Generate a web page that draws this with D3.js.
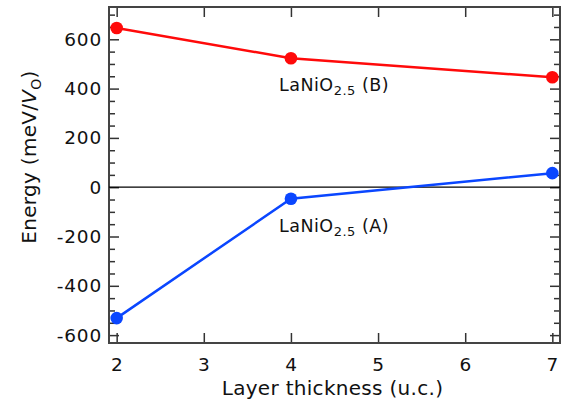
<!DOCTYPE html>
<html>
<head>
<meta charset="utf-8">
<script src="https://cdn.jsdelivr.net/npm/d3@7"></script>
<style>
  body { margin: 0; background: #fff; }
  text { font-family: "DejaVu Sans", sans-serif; fill: #111; }
</style>
</head>
<body>
<div id="chart"></div>
<script>
// values
const thickness = [2, 4, 7];
const energyB = [646, 523, 446];
const energyA = [-531, -47, 57];
const xTicks = [2, 3, 4, 5, 6, 7];
const yTicks = [-600, -400, -200, 0, 200, 400, 600];
const seriesNames = ["B", "A"];

const W = 567, H = 411;
const m = { left: 109, right: 7, top: 7, bottom: 68 };

const svg = d3.select("#chart").append("svg")
  .attr("width", W).attr("height", H);

const x = d3.scaleLinear().domain([1.912, 7.088]).range([m.left, W - m.right]);
const y = d3.scaleLinear().domain([-632, 731]).range([H - m.bottom, m.top]);

const minorY = d3.range(-600, 701, 50).filter(v => v % 200 !== 0);

// axes, ticks pointing inward
const fmt = d => d3.format("d")(d).replace("\u2212", "-");
svg.append("g").attr("transform", `translate(0,${H - m.bottom})`)
  .call(d3.axisBottom(x).tickValues(xTicks).tickSize(-10).tickPadding(15).tickFormat(fmt));
svg.append("g").attr("transform", `translate(0,${m.top})`)
  .call(d3.axisTop(x).tickValues(xTicks).tickSize(-10).tickFormat(""));
svg.append("g").attr("transform", `translate(${m.left},0)`)
  .call(d3.axisLeft(y).tickValues(yTicks).tickSize(-10).tickPadding(7).tickFormat(fmt));
svg.append("g").attr("transform", `translate(${W - m.right},0)`)
  .call(d3.axisRight(y).tickValues(yTicks).tickSize(-10).tickFormat(""));
svg.append("g").attr("transform", `translate(${m.left},0)`)
  .call(d3.axisLeft(y).tickValues(minorY).tickSize(-6).tickFormat(""));
svg.append("g").attr("transform", `translate(${W - m.right},0)`)
  .call(d3.axisRight(y).tickValues(minorY).tickSize(-6).tickFormat(""));

svg.selectAll(".domain").remove();
svg.selectAll(".tick line").attr("stroke", "#333").attr("stroke-width", 1.5);
svg.selectAll(".tick text").style("font-size", "18.5px").style("letter-spacing", "0.8px").attr("fill", "#111");

// frame
svg.append("rect")
  .attr("x", m.left).attr("y", m.top)
  .attr("width", W - m.left - m.right).attr("height", H - m.top - m.bottom)
  .attr("fill", "none").attr("stroke", "#444").attr("stroke-width", 2);

// zero line
svg.append("line")
  .attr("x1", m.left).attr("x2", W - m.right)
  .attr("y1", y(0)).attr("y2", y(0))
  .attr("stroke", "#000").attr("stroke-width", 1.2);

const series = [
  { name: seriesNames[0], values: energyB, color: "#ff0a0a" },
  { name: seriesNames[1], values: energyA, color: "#0a46ff" }
];

const line = d3.line().x(d => x(d[0])).y(d => y(d[1]));
series.forEach(s => {
  const pts = thickness.map((t, i) => [t, s.values[i]]);
  svg.append("path").datum(pts)
    .attr("d", line).attr("fill", "none")
    .attr("stroke", s.color).attr("stroke-width", 2.5);
  svg.selectAll(null).data(pts).enter().append("circle")
    .attr("cx", d => x(d[0])).attr("cy", d => y(d[1]))
    .attr("r", 6.3).attr("fill", s.color);
});

// series labels
function label(px, py, tag) {
  const t = svg.append("text").attr("x", px).attr("y", py)
    .style("font-size", "17.5px").style("letter-spacing", "0.5px");
  t.append("tspan").text("LaNiO");
  t.append("tspan").text("2.5").attr("dy", 4).style("font-size", "13px");
  t.append("tspan").text(` (${tag})`).attr("dy", -4);
}
label(x(4) - 12, y(523) + 33, "B");
label(x(4) - 12, y(-47) + 33, "A");

// axis titles
svg.append("text")
  .attr("x", (m.left + W - m.right) / 2 - 2).attr("y", 395)
  .attr("text-anchor", "middle").style("font-size", "20px").style("letter-spacing", "0.3px")
  .text("Layer thickness (u.c.)");

const yt = svg.append("text")
  .attr("transform", "translate(36,157) rotate(-90)")
  .attr("text-anchor", "middle").style("font-size", "20px").style("letter-spacing", "0.3px");
yt.append("tspan").text("Energy (meV/");
yt.append("tspan").text("V").style("font-style", "italic");
yt.append("tspan").text("O").attr("dy", 5).style("font-size", "14px");
yt.append("tspan").text(")").attr("dy", -5);
</script>
</body>
</html>
